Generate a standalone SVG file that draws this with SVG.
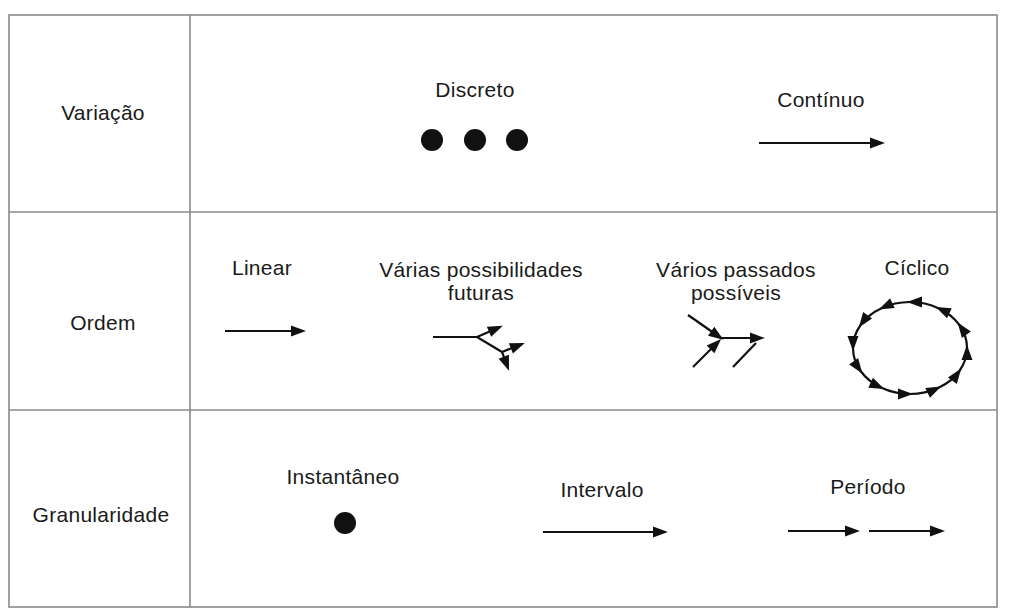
<svg xmlns="http://www.w3.org/2000/svg" width="1015" height="616" viewBox="0 0 1015 616">
<style>
text{font-family:"Liberation Sans",Arial,sans-serif;font-size:21px;letter-spacing:0.3px;fill:#1a1a1a;text-anchor:middle}
.grid{stroke:#8a8a8a;stroke-width:1.6;fill:none}
.ln{stroke:#111;stroke-width:2.2;fill:none}
.ar{stroke:#111;stroke-width:2.2;fill:none;marker-end:url(#ah)}
.dot{fill:#111}
</style>
<defs>
<marker id="ah" markerUnits="userSpaceOnUse" markerWidth="15" markerHeight="11" refX="12" refY="5.5" orient="auto" overflow="visible">
<path d="M0,0 L15,5.5 L0,11 Z" fill="#111"/>
</marker>
</defs>
<rect width="1015" height="616" fill="#fff"/>
<g id="table">
<rect class="grid" x="9" y="15" width="988" height="592"/>
<line class="grid" x1="190" y1="15" x2="190" y2="607"/>
<line class="grid" x1="9" y1="212" x2="997" y2="212"/>
<line class="grid" x1="9" y1="410" x2="997" y2="410"/>
</g>
<g id="row-labels">
<text x="103" y="120">Variação</text>
<text x="103" y="330">Ordem</text>
<text x="101" y="522">Granularidade</text>
</g>
<g id="discreto">
<text x="475" y="97">Discreto</text>
<circle class="dot" cx="432" cy="140" r="11"/>
<circle class="dot" cx="475" cy="140" r="11"/>
<circle class="dot" cx="517" cy="140" r="11"/>
</g>
<g id="continuo">
<text x="821" y="107">Contínuo</text>
</g>
<g id="linear"><text x="262" y="275">Linear</text></g>
<g id="futuras"><text x="481" y="277">Várias possibilidades</text><text x="481" y="300">futuras</text></g>
<g id="passados"><text x="736" y="277">Vários passados</text><text x="736" y="300">possíveis</text></g>
<g id="ciclico"><text x="917" y="275">Cíclico</text></g>
<g id="instantaneo"><text x="343" y="484">Instantâneo</text><circle class="dot" cx="345" cy="523" r="11"/></g>
<g id="intervalo"><text x="602" y="497">Intervalo</text></g>
<g id="periodo"><text x="868" y="494">Período</text></g>
<g id="connectors">
<line class="ar" x1="759" y1="143" x2="882" y2="143"/>
<line class="ar" x1="225" y1="331" x2="303" y2="331"/>
<path class="ln" d="M433,337 L477,337"/>
<path class="ar" d="M477,337 L500,327"/>
<path class="ln" d="M477,337 L502,352"/>
<path class="ar" d="M502,352 L522,344"/>
<path class="ar" d="M502,352 L508,368"/>
<path class="ar" d="M688,315 L721,338"/>
<path class="ar" d="M693,367 L719,341"/>
<path class="ar" d="M721,338 L762,338"/>
<path class="ln" d="M733,367 L756,343"/>
<path class="ar" d="M910,302 A57,46 0 0 0 881.5,308.2"/>
<path class="ar" d="M881.5,308.2 A57,46 0 0 0 860.6,325"/>
<path class="ar" d="M860.6,325 A57,46 0 0 0 853,348"/>
<path class="ar" d="M853,348 A57,46 0 0 0 860.6,371"/>
<path class="ar" d="M860.6,371 A57,46 0 0 0 881.5,387.8"/>
<path class="ar" d="M881.5,387.8 A57,46 0 0 0 910,394"/>
<path class="ar" d="M910,394 A57,46 0 0 0 938.5,387.8"/>
<path class="ar" d="M938.5,387.8 A57,46 0 0 0 959.4,371"/>
<path class="ar" d="M959.4,371 A57,46 0 0 0 967,348"/>
<path class="ar" d="M967,348 A57,46 0 0 0 959.4,325"/>
<path class="ar" d="M959.4,325 A57,46 0 0 0 938.5,308.2"/>
<path class="ar" d="M938.5,308.2 A57,46 0 0 0 910,302"/>
<line class="ar" x1="543" y1="532" x2="665" y2="532"/>
<line class="ar" x1="788" y1="531" x2="857" y2="531"/>
<line class="ar" x1="869" y1="531" x2="942" y2="531"/>
</g>
</svg>
